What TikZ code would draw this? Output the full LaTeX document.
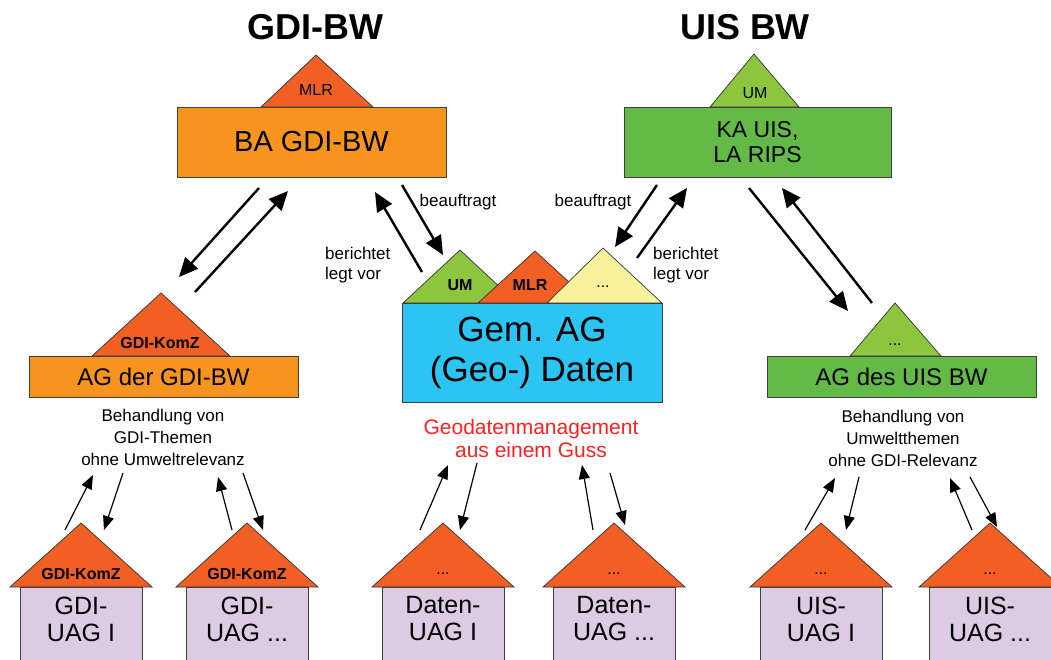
\documentclass[tikz,border=0pt]{standalone}
\usepackage{fontspec}
\setmainfont{Liberation Sans}
\usetikzlibrary{arrows.meta}

\definecolor{gdiorange}{HTML}{F7941D}
\definecolor{roofred}{HTML}{F15F24}
\definecolor{uisgreen}{HTML}{63BA47}
\definecolor{roofgreen}{HTML}{8CC63F}
\definecolor{gemcyan}{HTML}{2BC4F3}
\definecolor{roofyellow}{HTML}{F9F29C}
\definecolor{uaglila}{HTML}{DDCBE4}
\definecolor{gussred}{HTML}{FF2020}

\newcommand\setsz[2]{\fontsize{#1}{#2}\selectfont}
\newcommand\tdots{...}

\tikzset{
  box/.style={draw=black!75, line width=0.9pt, inner sep=0pt, align=center},
  roof/.style={draw=black!80, line width=0.7pt},
  rooftext/.style={inner sep=0pt, font=\setsz{16}{18}},
  notetext/.style={inner sep=0pt, align=center, font=\setsz{17}{22}},
  bigarrow/.style={line width=2.4pt, -{Triangle[length=19pt,width=17pt]}},
  smallarrow/.style={line width=1.2pt, -{Triangle[length=14pt,width=11pt]}}
}

\begin{document}
\begin{tikzpicture}[x=1pt,y=-1pt]
  \useasboundingbox (0,0) rectangle (1051,659);

  % Titles
  \node[inner sep=0pt, font=\setsz{36}{40}\bfseries] (titleGdi) at (315,27) {GDI-BW};
  \node[inner sep=0pt, font=\setsz{36}{40}\bfseries] (titleUis) at (745,27) {UIS BW};

  % BA GDI-BW with its roof
  \filldraw[roof, fill=roofred] (261,107) -- (316,55) -- (373,107) -- cycle;
  \node[rooftext] (baRoof) at (316,90) {MLR};
  \node[box, fill=gdiorange, minimum width=269pt, minimum height=70pt,
        font=\setsz{29}{32}] (ba) at (311.5,142) {BA GDI-BW};

  % KA UIS, LA RIPS with its roof
  \filldraw[roof, fill=roofgreen] (710,107) -- (754,54) -- (799,107) -- cycle;
  \node[rooftext] (kaRoof) at (755,93) {UM};
  \node[box, fill=uisgreen, minimum width=267pt, minimum height=70pt,
        font=\setsz{23}{25}] (ka) at (757.5,142) {KA UIS,\\LA RIPS};

  % Gem. AG with three roofs
  \filldraw[roof, fill=roofgreen] (403,303) -- (460,250) -- (517,303) -- cycle;
  \filldraw[roof, fill=roofred] (478,303) -- (535,251) -- (592,303) -- cycle;
  \filldraw[roof, fill=roofyellow] (547,303) -- (603,248) -- (662,303) -- cycle;
  \node[rooftext, font=\setsz{16}{18}\bfseries] (gemUm) at (460,285) {UM};
  \node[rooftext, font=\setsz{16}{18}\bfseries] (gemMlr) at (530,285) {MLR};
  \node[rooftext] (gemMore) at (603,287) {\tdots};
  \node[box, fill=gemcyan, minimum width=260pt, minimum height=99pt,
        font=\setsz{35}{40}] (gem) at (532,352.5) {Gem. AG\\(Geo-) Daten};

  % AG der GDI-BW
  \filldraw[roof, fill=roofred] (92,356) -- (161,293) -- (230,356) -- cycle;
  \node[rooftext, font=\setsz{16}{18}\bfseries] (agGdiRoof) at (160,343) {GDI-KomZ};
  \node[box, fill=gdiorange, minimum width=269pt, minimum height=41pt,
        font=\setsz{24}{26}] (agGdi) at (163.5,376.5) {AG der GDI-BW};

  % AG des UIS BW
  \filldraw[roof, fill=roofgreen] (850,356) -- (895,303) -- (941,356) -- cycle;
  \node[rooftext] (agUisRoof) at (895,345) {\tdots};
  \node[box, fill=uisgreen, minimum width=269pt, minimum height=41pt,
        font=\setsz{24}{26}] (agUis) at (901.5,376.5) {AG des UIS BW};

  % Notes
  \node[notetext] (noteGdi) at (163,437) {Behandlung von\\GDI-Themen\\ohne Umweltrelevanz};
  \node[notetext] (noteUis) at (903,438) {Behandlung von\\Umweltthemen\\ohne GDI-Relevanz};
  \node[notetext, text=gussred, font=\setsz{21}{23}] (guss) at (531,438) {Geodatenmanagement\\aus einem Guss};
  \node[notetext, align=left, anchor=north west, font=\setsz{17}{20}] (berGdi) at (325,247) {berichtet\\legt vor};
  \node[notetext, align=left, anchor=north west, font=\setsz{17}{20}] (berUis) at (653,247) {berichtet\\legt vor};
  \node[notetext, font=\setsz{17}{20}] (aufGdi) at (458,202) {beauftragt};
  \node[notetext, font=\setsz{17}{20}] (aufUis) at (593,202) {beauftragt};

  % Big arrows
  \coordinate (gdiDownS) at (259,188);  \coordinate (gdiDownE) at (179,277);
  \coordinate (gdiUpS) at (195,292);    \coordinate (gdiUpE) at (288,191);
  \coordinate (baGemS) at (402,185);    \coordinate (baGemE) at (443,255);
  \coordinate (gemBaS) at (422,272);    \coordinate (gemBaE) at (375,192);
  \coordinate (kaGemS) at (657,185);    \coordinate (kaGemE) at (615,247);
  \coordinate (gemKaS) at (637,258);    \coordinate (gemKaE) at (687,188);
  \coordinate (uisDownS) at (749,188);  \coordinate (uisDownE) at (848,311);
  \coordinate (uisUpS) at (872,303);    \coordinate (uisUpE) at (782,188);
  \draw[bigarrow] (gdiDownS) -- (gdiDownE);
  \draw[bigarrow] (gdiUpS) -- (gdiUpE);
  \draw[bigarrow] (baGemS) -- (baGemE);
  \draw[bigarrow] (gemBaS) -- (gemBaE);
  \draw[bigarrow] (kaGemS) -- (kaGemE);
  \draw[bigarrow] (gemKaS) -- (gemKaE);
  \draw[bigarrow] (uisDownS) -- (uisDownE);
  \draw[bigarrow] (uisUpS) -- (uisUpE);

  % Houses of the sub groups
  \foreach \cx/\nm/\rt/\bt in {
      81/gdiUagA/{\textbf{GDI-KomZ}}/{GDI-\\UAG I},
      247/gdiUagB/{\textbf{GDI-KomZ}}/{GDI-\\UAG \tdots},
      443/datUagA/\tdots/{Daten-\\UAG I},
      614/datUagB/\tdots/{Daten-\\UAG \tdots},
      821/uisUagA/\tdots/{UIS-\\UAG I},
      990/uisUagB/\tdots/{UIS-\\UAG \tdots}} {
    \filldraw[box, fill=uaglila] (\cx-61,587) rectangle (\cx+61,668);
    \filldraw[roof, fill=roofred] (\cx-71,587) -- (\cx,523) -- (\cx+71,587) -- cycle;
    \node[rooftext] (\nm Roof) at (\cx,574) {\rt};
    \node[notetext, font=\setsz{25}{27}] (\nm) at (\cx,619) {\bt};
  }

  % Small arrows
  \foreach \i/\ax/\ay/\bx/\by in {
      1/65/530/93/475, 2/123/473/104/530, 3/232/530/218/477, 4/243/473/263/530,
      5/420/530/448/465, 6/477/463/460/530, 7/593/530/582/465, 8/610/473/625/525,
      9/805/530/835/478, 10/859/477/846/530, 11/972/530/950/478, 12/970/477/997/527} {
    \coordinate (s\i) at (\ax,\ay);
    \coordinate (e\i) at (\bx,\by);
    \draw[smallarrow] (s\i) -- (e\i);
  }
\end{tikzpicture}
\end{document}
